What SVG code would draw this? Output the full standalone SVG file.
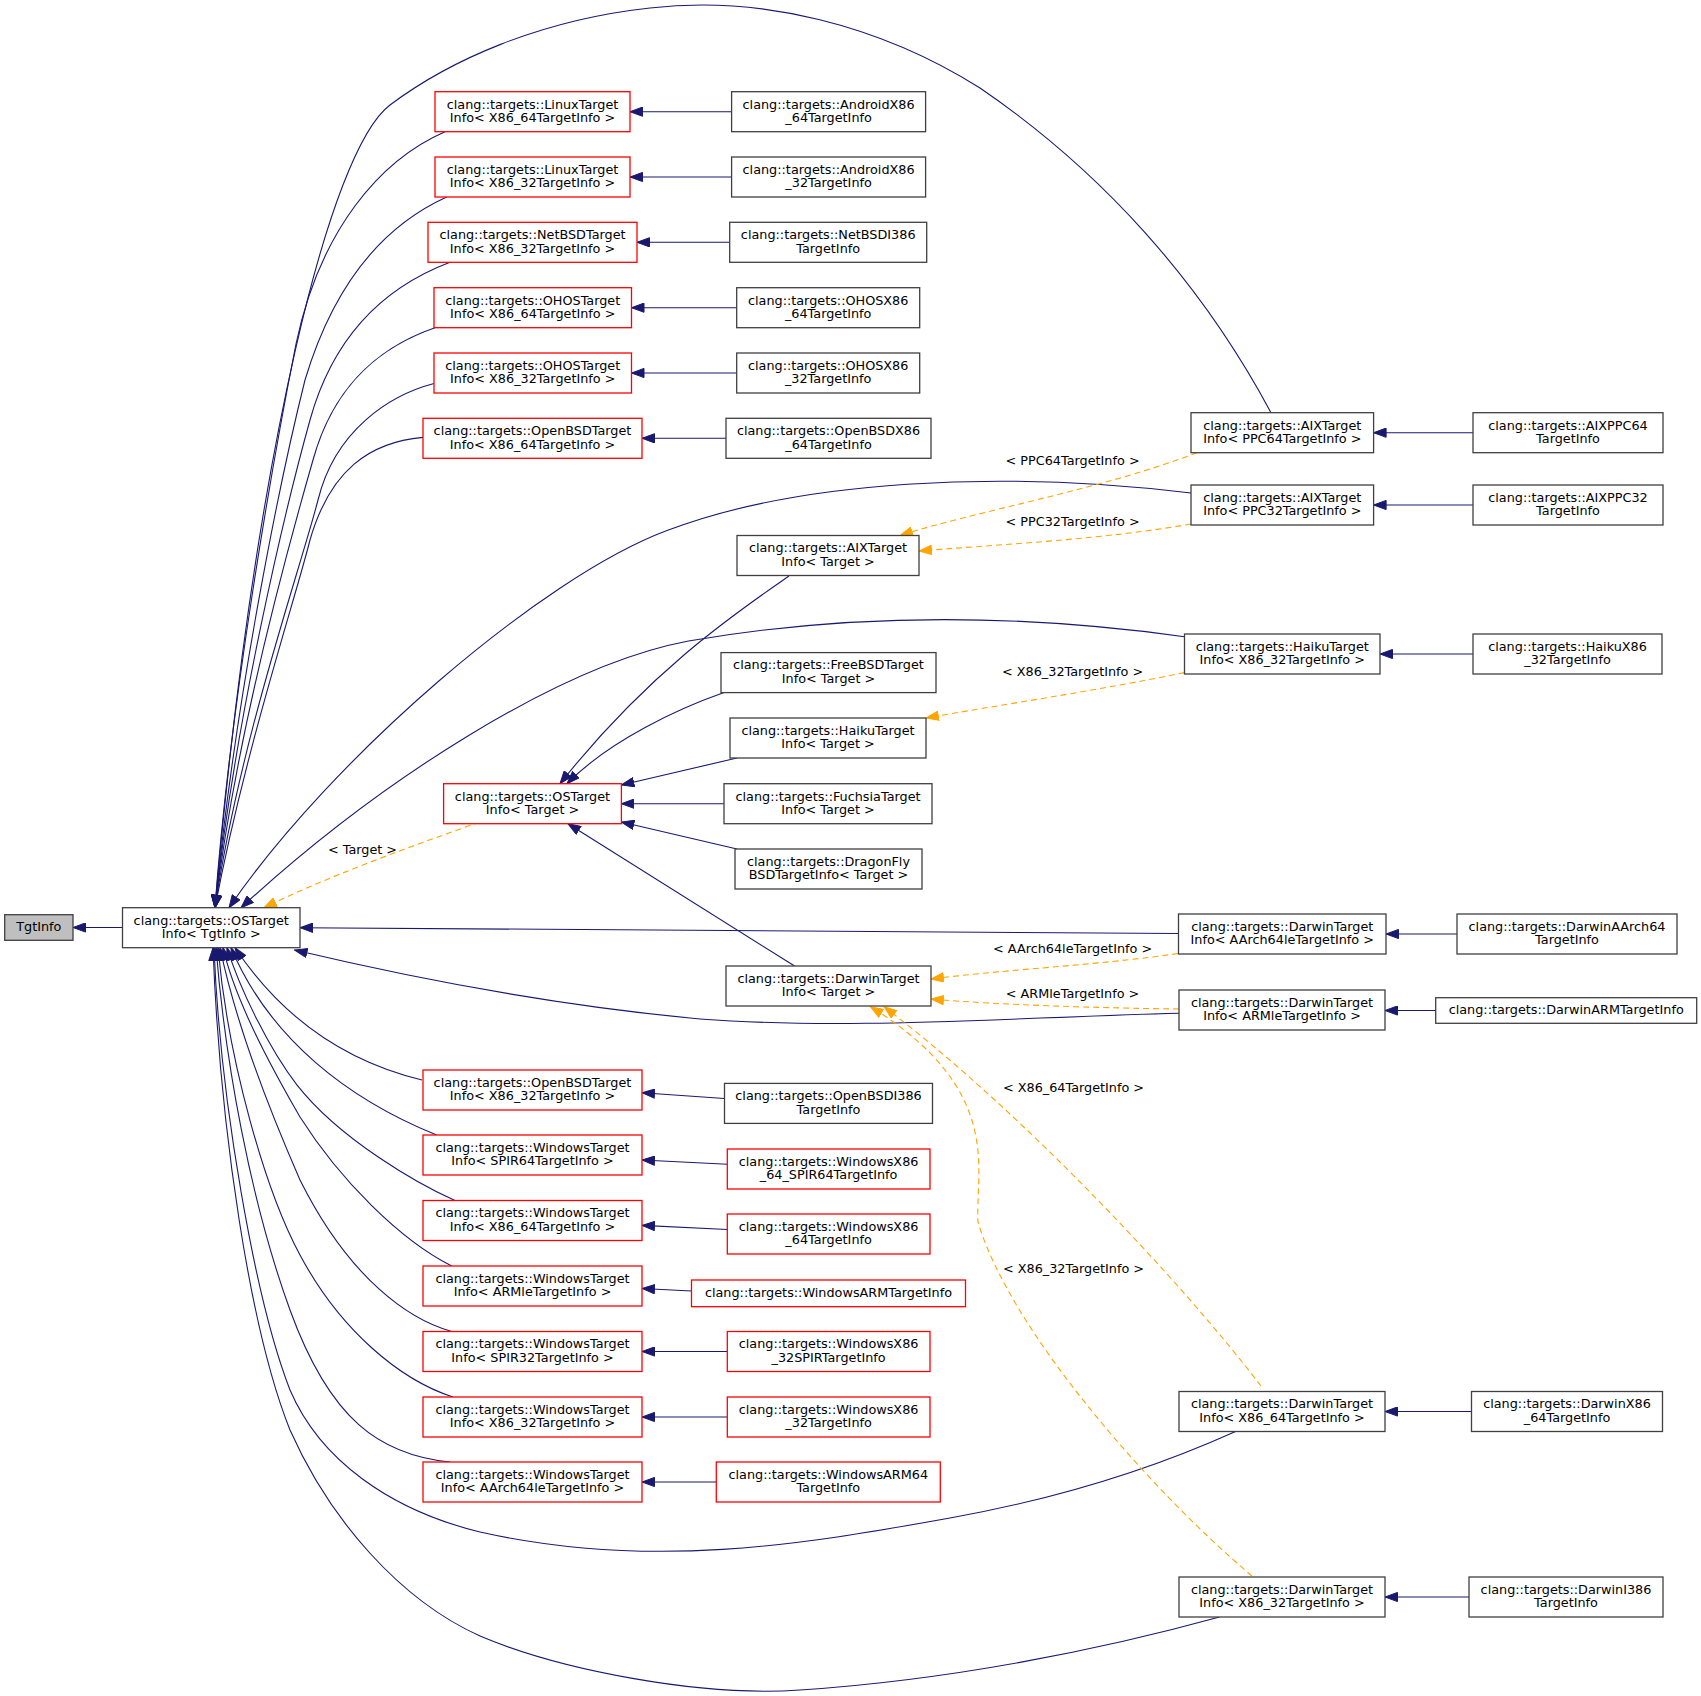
<svg xmlns="http://www.w3.org/2000/svg" width="1701" height="1696" viewBox="0 0 1701 1696">
<style>
.n rect{fill:#ffffff;stroke:#404040;stroke-width:1.3}
.r rect{stroke:#ff0000}
.g rect{fill:#bfbfbf}
text{font-family:"DejaVu Sans","Liberation Sans",sans-serif;font-size:12.8px;text-anchor:middle;fill:#000000}
.e{fill:none;stroke:#191970;stroke-width:1.1;marker-end:url(#an)}
.t{fill:none;stroke:#ffa500;stroke-width:1.1;stroke-dasharray:6,4;marker-end:url(#ao)}
</style>
<defs>
<marker id="an" markerUnits="userSpaceOnUse" viewBox="0 0 14 10" markerWidth="14" markerHeight="10" refX="13" refY="5" orient="auto"><path d="M0.5,0.4 L13,5 L0.5,9.6 z" fill="#191970" stroke="#191970" stroke-width="1"/></marker>
<marker id="ao" markerUnits="userSpaceOnUse" viewBox="0 0 14 10" markerWidth="14" markerHeight="10" refX="13" refY="5" orient="auto"><path d="M0.5,0.4 L13,5 L0.5,9.6 z" fill="#ffa500" stroke="#ffa500" stroke-width="1"/></marker>
</defs>
<rect x="0" y="0" width="1701" height="1696" fill="#ffffff"/>
<g id="edges">
<path class="e" d="M122.5,927.5 L73,927.5"/>
<path class="e" d="M1271,412.7 C1200,280 1100,170 980,88 C880,25 760,-5 650,8 C540,20 450,60 390,105 C330,150 255,450 215,907.7"/>
<path class="e" d="M445,131.7 C380,160 320,230 296,344 C275,450 230,700 215,907.7"/>
<path class="e" d="M446.7,197 C385,225 335,280 305,380 C280,480 235,700 215,907.7"/>
<path class="e" d="M450,262.3 C390,285 335,330 310,420 C285,510 235,720 215,907.7"/>
<path class="e" d="M435,327.7 C385,345 335,380 313,460 C290,540 237,730 215,907.7"/>
<path class="e" d="M434,383.5 C390,395 335,430 318,500 C300,570 240,740 215,907.7"/>
<path class="e" d="M423,437.4 C370,442 330,470 310,540 C295,600 245,750 215,907.7"/>
<path class="e" d="M1191,493 C1000,470 800,480 667,530.6 C540,578 330,760 229,907.7"/>
<path class="e" d="M1184.5,636.7 C1050,618 880,608 688.5,641 C560,665 380,780 241,907.7"/>
<path class="e" d="M1178.5,933.5 L300,927.7"/>
<path class="e" d="M1179,1013.3 C1000,1018 850,1030 700,1019 C550,1005 400,975 294.6,950"/>
<path class="e" d="M422,1080 C360,1065 290,1030 235,947.7"/>
<path class="e" d="M436.7,1135 C350,1100 270,1040 231,947.7"/>
<path class="e" d="M455,1200.5 C420,1185 340,1140 296.7,1084.6 C270,1050 240,990 227,947.7"/>
<path class="e" d="M451.7,1266 C400,1240 340,1180 300,1117 C270,1065 235,1000 223,947.7"/>
<path class="e" d="M451.7,1331.5 C410,1320 350,1280 300,1180 C265,1100 235,1020 220,947.7"/>
<path class="e" d="M453,1397 C400,1380 340,1330 300,1255 C265,1190 228,1060 218,947.7"/>
<path class="e" d="M450,1462 C380,1455 330,1420 290,1310 C250,1200 225,1060 216,947.7"/>
<path class="e" d="M1235.5,1431.4 C1150,1470 1050,1500 950,1518 C800,1545 650,1570 480,1532 C390,1510 320,1460 290,1390 C255,1300 220,1100 214,947.7"/>
<path class="e" d="M1219.5,1617 C1100,1650 950,1680 800,1690 C700,1697 560,1670 480,1636 C400,1600 330,1520 290,1430 C250,1330 220,1130 213,947.7"/>
<path class="t" d="M480,822 C400,850 320,880 264,907.7"/>
<text x="362.5" y="853.5">&lt; Target &gt;</text>
<path class="e" d="M731.6,111.7 L630,111.7"/>
<path class="e" d="M731.6,177 L630,177"/>
<path class="e" d="M729.7,242.3 L637,242.3"/>
<path class="e" d="M736.7,307.7 L631.5,307.7"/>
<path class="e" d="M736.7,373 L631.5,373"/>
<path class="e" d="M726,438.3 L642,438.3"/>
<path class="e" d="M789,576 C740,610 650,670 560,783.7"/>
<path class="e" d="M724,692.6 C680,708 610,740 567,783.7"/>
<path class="e" d="M737,758 L621.4,785"/>
<path class="e" d="M724,803.7 L621.4,803.7"/>
<path class="e" d="M737,849 L621.4,822"/>
<path class="e" d="M794.6,966 L568,823.7"/>
<path class="e" d="M724.5,1098.5 L642,1092.7"/>
<path class="e" d="M727.3,1164.2 L642,1160"/>
<path class="e" d="M727.3,1229.5 L642,1225.4"/>
<path class="e" d="M691.5,1291 L642,1288.5"/>
<path class="e" d="M727.3,1351.5 L642,1351.5"/>
<path class="e" d="M727.3,1417 L642,1417"/>
<path class="e" d="M716.3,1482 L642,1482"/>
<path class="t" d="M1197,452.7 C1100,490 980,510 900,535.5"/>
<text x="1072.6" y="464.5">&lt; PPC64TargetInfo &gt;</text>
<path class="t" d="M1191,524 C1100,540 990,545 919,551"/>
<text x="1072.6" y="526">&lt; PPC32TargetInfo &gt;</text>
<path class="t" d="M1184.5,672.6 C1100,690 1000,705 926,718"/>
<text x="1072.6" y="675.5">&lt; X86_32TargetInfo &gt;</text>
<path class="t" d="M1178,953.5 C1100,965 1000,970 931,979"/>
<text x="1072.6" y="952.5">&lt; AArch64leTargetInfo &gt;</text>
<path class="t" d="M1179,1009 C1100,1008 1000,1005 931,999"/>
<text x="1072.6" y="997.5">&lt; ARMleTargetInfo &gt;</text>
<path class="t" d="M1261,1386 C1180,1280 1020,1110 884,1006.7"/>
<text x="1073.5" y="1092">&lt; X86_64TargetInfo &gt;</text>
<path class="t" d="M1252,1576 C1150,1490 1010,1330 978,1222 C975,1170 1005,1090 870.5,1006.7"/>
<text x="1073.5" y="1272.5">&lt; X86_32TargetInfo &gt;</text>
<path class="e" d="M1473,432.7 L1373.6,432.7"/>
<path class="e" d="M1473,505 L1373.6,505"/>
<path class="e" d="M1473,654 L1380,654"/>
<path class="e" d="M1457,934 L1386,934"/>
<path class="e" d="M1435.7,1010.5 L1385,1010.5"/>
<path class="e" d="M1471.5,1411.5 L1385,1411.5"/>
<path class="e" d="M1469,1597 L1385,1597"/>
</g>
<g id="n0" class="n g"><rect x="4.7" y="914.7" width="68.3" height="25.6"/><text x="38.8" y="931">TgtInfo</text></g>
<g id="n1" class="n"><rect x="122.5" y="907.7" width="177.5" height="40"/><text x="211.25" y="924.5">clang::targets::OSTarget</text><text x="211.25" y="938">Info&lt; TgtInfo &gt;</text></g>
<g id="n2" class="n r"><rect x="435" y="91.7" width="195" height="40"/><text x="532.5" y="108.5">clang::targets::LinuxTarget</text><text x="532.5" y="122">Info&lt; X86_64TargetInfo &gt;</text></g>
<g id="n3" class="n r"><rect x="435" y="157" width="195" height="40"/><text x="532.5" y="173.8">clang::targets::LinuxTarget</text><text x="532.5" y="187.3">Info&lt; X86_32TargetInfo &gt;</text></g>
<g id="n4" class="n r"><rect x="428" y="222.3" width="209" height="40"/><text x="532.5" y="239.1">clang::targets::NetBSDTarget</text><text x="532.5" y="252.6">Info&lt; X86_32TargetInfo &gt;</text></g>
<g id="n5" class="n r"><rect x="434" y="287.7" width="197.5" height="40"/><text x="532.75" y="304.5">clang::targets::OHOSTarget</text><text x="532.75" y="318">Info&lt; X86_64TargetInfo &gt;</text></g>
<g id="n6" class="n r"><rect x="434" y="353" width="197.5" height="40"/><text x="532.75" y="369.8">clang::targets::OHOSTarget</text><text x="532.75" y="383.3">Info&lt; X86_32TargetInfo &gt;</text></g>
<g id="n7" class="n r"><rect x="423" y="418.3" width="219" height="40"/><text x="532.5" y="435.1">clang::targets::OpenBSDTarget</text><text x="532.5" y="448.6">Info&lt; X86_64TargetInfo &gt;</text></g>
<g id="n8" class="n r"><rect x="443.6" y="783.7" width="177.8" height="40"/><text x="532.5" y="800.5">clang::targets::OSTarget</text><text x="532.5" y="814">Info&lt; Target &gt;</text></g>
<g id="n9" class="n r"><rect x="423" y="1070" width="219" height="40"/><text x="532.5" y="1086.8">clang::targets::OpenBSDTarget</text><text x="532.5" y="1100.3">Info&lt; X86_32TargetInfo &gt;</text></g>
<g id="n10" class="n r"><rect x="423" y="1135" width="219" height="40"/><text x="532.5" y="1151.8">clang::targets::WindowsTarget</text><text x="532.5" y="1165.3">Info&lt; SPIR64TargetInfo &gt;</text></g>
<g id="n11" class="n r"><rect x="423" y="1200.5" width="219" height="40"/><text x="532.5" y="1217.3">clang::targets::WindowsTarget</text><text x="532.5" y="1230.8">Info&lt; X86_64TargetInfo &gt;</text></g>
<g id="n12" class="n r"><rect x="423" y="1266" width="219" height="40"/><text x="532.5" y="1282.8">clang::targets::WindowsTarget</text><text x="532.5" y="1296.3">Info&lt; ARMleTargetInfo &gt;</text></g>
<g id="n13" class="n r"><rect x="423" y="1331.5" width="219" height="40"/><text x="532.5" y="1348.3">clang::targets::WindowsTarget</text><text x="532.5" y="1361.8">Info&lt; SPIR32TargetInfo &gt;</text></g>
<g id="n14" class="n r"><rect x="423" y="1397" width="219" height="40"/><text x="532.5" y="1413.8">clang::targets::WindowsTarget</text><text x="532.5" y="1427.3">Info&lt; X86_32TargetInfo &gt;</text></g>
<g id="n15" class="n r"><rect x="423" y="1462" width="219" height="40"/><text x="532.5" y="1478.8">clang::targets::WindowsTarget</text><text x="532.5" y="1492.3">Info&lt; AArch64leTargetInfo &gt;</text></g>
<g id="n16" class="n"><rect x="731.6" y="91.7" width="194" height="40"/><text x="828.6" y="108.5">clang::targets::AndroidX86</text><text x="828.6" y="122">_64TargetInfo</text></g>
<g id="n17" class="n"><rect x="731.6" y="157" width="194" height="40"/><text x="828.6" y="173.8">clang::targets::AndroidX86</text><text x="828.6" y="187.3">_32TargetInfo</text></g>
<g id="n18" class="n"><rect x="729.7" y="222.3" width="197" height="40"/><text x="828.2" y="239.1">clang::targets::NetBSDI386</text><text x="828.2" y="252.6">TargetInfo</text></g>
<g id="n19" class="n"><rect x="736.7" y="287.7" width="183" height="40"/><text x="828.2" y="304.5">clang::targets::OHOSX86</text><text x="828.2" y="318">_64TargetInfo</text></g>
<g id="n20" class="n"><rect x="736.7" y="353" width="183" height="40"/><text x="828.2" y="369.8">clang::targets::OHOSX86</text><text x="828.2" y="383.3">_32TargetInfo</text></g>
<g id="n21" class="n"><rect x="726" y="418.3" width="205" height="40"/><text x="828.5" y="435.1">clang::targets::OpenBSDX86</text><text x="828.5" y="448.6">_64TargetInfo</text></g>
<g id="n22" class="n"><rect x="737" y="535.5" width="182" height="40"/><text x="828" y="552.3">clang::targets::AIXTarget</text><text x="828" y="565.8">Info&lt; Target &gt;</text></g>
<g id="n23" class="n"><rect x="721" y="652.6" width="215" height="40"/><text x="828.5" y="669.4">clang::targets::FreeBSDTarget</text><text x="828.5" y="682.9">Info&lt; Target &gt;</text></g>
<g id="n24" class="n"><rect x="730" y="718" width="196" height="40"/><text x="828" y="734.8">clang::targets::HaikuTarget</text><text x="828" y="748.3">Info&lt; Target &gt;</text></g>
<g id="n25" class="n"><rect x="724" y="783.7" width="208" height="40"/><text x="828" y="800.5">clang::targets::FuchsiaTarget</text><text x="828" y="814">Info&lt; Target &gt;</text></g>
<g id="n26" class="n"><rect x="735" y="849" width="187" height="40"/><text x="828.5" y="865.8">clang::targets::DragonFly</text><text x="828.5" y="879.3">BSDTargetInfo&lt; Target &gt;</text></g>
<g id="n27" class="n"><rect x="726" y="966" width="205" height="40"/><text x="828.5" y="982.8">clang::targets::DarwinTarget</text><text x="828.5" y="996.3">Info&lt; Target &gt;</text></g>
<g id="n28" class="n"><rect x="724.5" y="1083.4" width="208" height="40"/><text x="828.5" y="1100.2">clang::targets::OpenBSDI386</text><text x="828.5" y="1113.7">TargetInfo</text></g>
<g id="n29" class="n r"><rect x="727.3" y="1149" width="202.7" height="40"/><text x="828.6" y="1165.8">clang::targets::WindowsX86</text><text x="828.6" y="1179.3">_64_SPIR64TargetInfo</text></g>
<g id="n30" class="n r"><rect x="727.3" y="1214" width="202.7" height="40"/><text x="828.6" y="1230.8">clang::targets::WindowsX86</text><text x="828.6" y="1244.3">_64TargetInfo</text></g>
<g id="n31" class="n r"><rect x="691.5" y="1280" width="274" height="26.7"/><text x="828.5" y="1297">clang::targets::WindowsARMTargetInfo</text></g>
<g id="n32" class="n r"><rect x="727.3" y="1331.5" width="202.7" height="40"/><text x="828.6" y="1348.3">clang::targets::WindowsX86</text><text x="828.6" y="1361.8">_32SPIRTargetInfo</text></g>
<g id="n33" class="n r"><rect x="727.3" y="1397" width="202.7" height="40"/><text x="828.6" y="1413.8">clang::targets::WindowsX86</text><text x="828.6" y="1427.3">_32TargetInfo</text></g>
<g id="n34" class="n r"><rect x="716.3" y="1462" width="224" height="40"/><text x="828.3" y="1478.8">clang::targets::WindowsARM64</text><text x="828.3" y="1492.3">TargetInfo</text></g>
<g id="n35" class="n"><rect x="1191" y="412.7" width="182.6" height="40"/><text x="1282.3" y="429.5">clang::targets::AIXTarget</text><text x="1282.3" y="443">Info&lt; PPC64TargetInfo &gt;</text></g>
<g id="n36" class="n"><rect x="1191" y="485" width="182.6" height="40"/><text x="1282.3" y="501.8">clang::targets::AIXTarget</text><text x="1282.3" y="515.3">Info&lt; PPC32TargetInfo &gt;</text></g>
<g id="n37" class="n"><rect x="1184.5" y="634" width="195.5" height="40"/><text x="1282.25" y="650.8">clang::targets::HaikuTarget</text><text x="1282.25" y="664.3">Info&lt; X86_32TargetInfo &gt;</text></g>
<g id="n38" class="n"><rect x="1178.5" y="914" width="207.5" height="40"/><text x="1282.25" y="930.8">clang::targets::DarwinTarget</text><text x="1282.25" y="944.3">Info&lt; AArch64leTargetInfo &gt;</text></g>
<g id="n39" class="n"><rect x="1179" y="990" width="206" height="40"/><text x="1282" y="1006.8">clang::targets::DarwinTarget</text><text x="1282" y="1020.3">Info&lt; ARMleTargetInfo &gt;</text></g>
<g id="n40" class="n"><rect x="1179" y="1391.5" width="206" height="40"/><text x="1282" y="1408.3">clang::targets::DarwinTarget</text><text x="1282" y="1421.8">Info&lt; X86_64TargetInfo &gt;</text></g>
<g id="n41" class="n"><rect x="1179" y="1577" width="206" height="40"/><text x="1282" y="1593.8">clang::targets::DarwinTarget</text><text x="1282" y="1607.3">Info&lt; X86_32TargetInfo &gt;</text></g>
<g id="n42" class="n"><rect x="1473" y="412.7" width="190" height="40"/><text x="1568" y="429.5">clang::targets::AIXPPC64</text><text x="1568" y="443">TargetInfo</text></g>
<g id="n43" class="n"><rect x="1473" y="485" width="190" height="40"/><text x="1568" y="501.8">clang::targets::AIXPPC32</text><text x="1568" y="515.3">TargetInfo</text></g>
<g id="n44" class="n"><rect x="1473" y="634" width="189" height="40"/><text x="1567.5" y="650.8">clang::targets::HaikuX86</text><text x="1567.5" y="664.3">_32TargetInfo</text></g>
<g id="n45" class="n"><rect x="1457" y="914" width="220" height="40"/><text x="1567" y="930.8">clang::targets::DarwinAArch64</text><text x="1567" y="944.3">TargetInfo</text></g>
<g id="n46" class="n"><rect x="1435.7" y="997.7" width="261" height="25.6"/><text x="1566.2" y="1014">clang::targets::DarwinARMTargetInfo</text></g>
<g id="n47" class="n"><rect x="1471.5" y="1391.5" width="191" height="40"/><text x="1567" y="1408.3">clang::targets::DarwinX86</text><text x="1567" y="1421.8">_64TargetInfo</text></g>
<g id="n48" class="n"><rect x="1469" y="1577" width="194" height="40"/><text x="1566" y="1593.8">clang::targets::DarwinI386</text><text x="1566" y="1607.3">TargetInfo</text></g>
</svg>
